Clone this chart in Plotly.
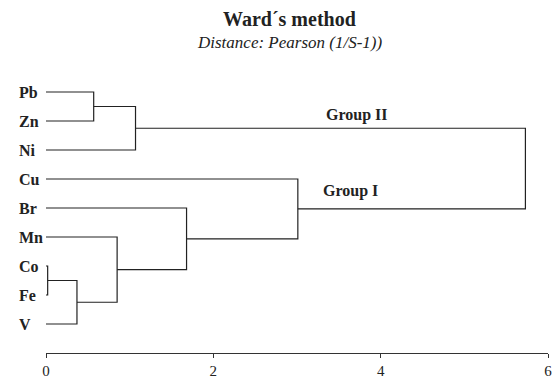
import plotly.graph_objects as go

# Leaf order (top to bottom)
leaves = ["Pb", "Zn", "Ni", "Cu", "Br", "Mn", "Co", "Fe", "V"]

# Linkage: cluster name, left child, right child, merge distance
link_name = ["C1", "C2", "C3", "C4", "C5", "C6", "C7", "C8"]
link_a = ["Pb", "C1", "Co", "C3", "Mn", "Br", "Cu", "C2"]
link_b = ["Zn", "Ni", "Fe", "V", "C4", "C5", "C6", "C7"]
link_height = [0.57, 1.07, 0.02, 0.37, 0.85, 1.68, 3.01, 5.73]

x_ticks = [0, 2, 4, 6]
group_labels = ["Group II", "Group I"]

FONT = "Liberation Serif"
INK = "#222222"

pos = {name: (0.0, float(i)) for i, name in enumerate(leaves)}
xs, ys = [], []
for name, a, b, h in zip(link_name, link_a, link_b, link_height):
    xa, ya = pos[a]
    xb, yb = pos[b]
    xs += [xa, h, h, xb, None]
    ys += [ya, ya, yb, yb, None]
    pos[name] = (h, (ya + yb) / 2)

fig = go.Figure()
fig.add_trace(go.Scatter(x=xs, y=ys, mode="lines",
                         line=dict(color=INK, width=1.2),
                         hoverinfo="skip", showlegend=False, cliponaxis=False))

annotations = []
for i, name in enumerate(leaves):
    annotations.append(dict(x=-0.057, y=i, xref="paper", yref="y", text="<b>%s</b>" % name,
                            showarrow=False, xanchor="left", yanchor="middle",
                            font=dict(family=FONT, size=16, color=INK)))
annotations.append(dict(x=3.72, y=0.79, xref="x", yref="y", text="<b>%s</b>" % group_labels[0],
                        showarrow=False, xanchor="center", yanchor="middle",
                        font=dict(family=FONT, size=16, color=INK)))
annotations.append(dict(x=3.64, y=3.42, xref="x", yref="y", text="<b>%s</b>" % group_labels[1],
                        showarrow=False, xanchor="center", yanchor="middle",
                        font=dict(family=FONT, size=16, color=INK)))
annotations.append(dict(x=0.485, y=1.151, xref="paper", yref="paper", text="<b>Ward´s method</b>",
                        showarrow=False, xanchor="center", yanchor="middle",
                        font=dict(family=FONT, size=20, color=INK)))
annotations.append(dict(x=0.485, y=1.069, xref="paper", yref="paper",
                        text="<i>Distance: Pearson (1/S-1))</i>",
                        showarrow=False, xanchor="center", yanchor="middle",
                        font=dict(family=FONT, size=17, color=INK)))

fig.update_layout(
    width=555, height=380,
    margin=dict(l=46, r=7, t=63, b=27, autoexpand=False),
    paper_bgcolor="white", plot_bgcolor="white",
    annotations=annotations,
    xaxis=dict(range=[0, 6], tickvals=x_ticks, ticks="outside", ticklen=4,
               tickcolor="#333333", showline=True, linecolor="#333333", linewidth=1.2,
               showgrid=False, zeroline=False, automargin=False,
               ticklabeloverflow="allow",
               tickfont=dict(family=FONT, size=15, color=INK)),
    yaxis=dict(range=[9, -1], showticklabels=False, showgrid=False,
               zeroline=False, showline=False, ticks="", automargin=False),
)

fig.write_html("out.html", config={"displayModeBar": False},
               post_script="document.body.style.margin='0';document.body.style.overflow='hidden';")
